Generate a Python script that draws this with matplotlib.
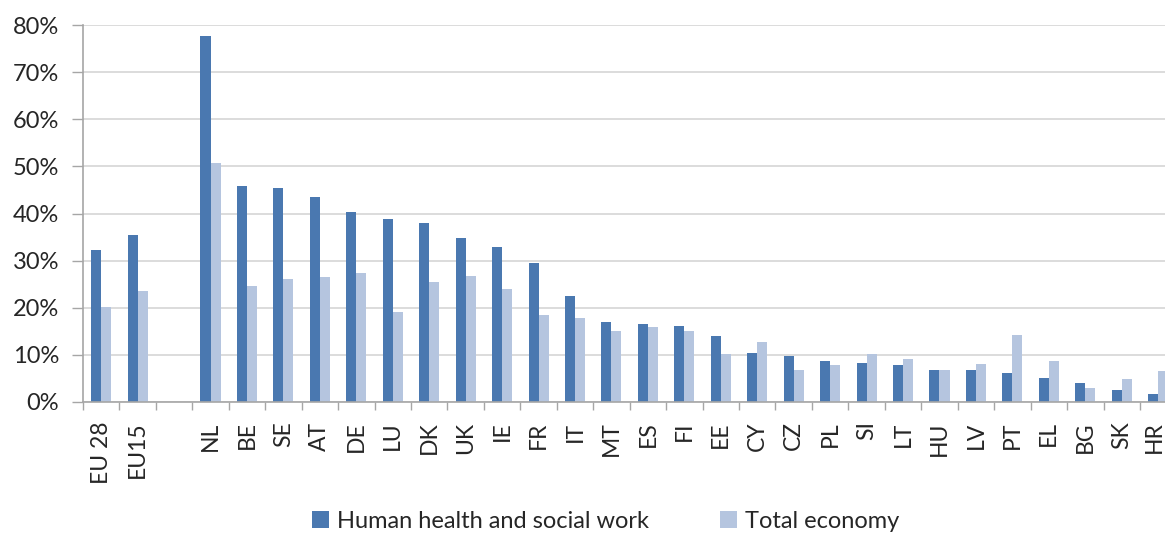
import matplotlib
matplotlib.use("Agg")
import matplotlib.pyplot as plt
import matplotlib.transforms as mtransforms
import numpy as np

plt.rcParams['font.family'] = ['Lato', 'DejaVu Sans']

# data (share in %), blank slot separates EU aggregates from countries
countries = ["EU 28", "EU15", "", "NL", "BE", "SE", "AT", "DE", "LU", "DK", "UK", "IE",
             "FR", "IT", "MT", "ES", "FI", "EE", "CY", "CZ", "PL", "SI", "LT", "HU",
             "LV", "PT", "EL", "BG", "SK", "HR"]
health = [32.3, 35.5, np.nan, 77.7, 45.9, 45.5, 43.6, 40.4, 38.8, 38.0, 34.9, 32.8,
          29.5, 22.5, 17.0, 16.5, 16.2, 14.0, 10.5, 9.7, 8.6, 8.3, 7.8, 6.7,
          6.7, 6.2, 5.0, 4.0, 2.6, 1.8]
total = [20.2, 23.5, np.nan, 50.7, 24.7, 26.2, 26.5, 27.3, 19.2, 25.4, 26.8, 24.0,
         18.4, 17.8, 15.1, 15.9, 15.1, 10.2, 12.7, 6.7, 7.8, 10.2, 9.1, 6.7,
         8.1, 14.3, 8.6, 2.9, 4.8, 6.6]

dark = "#4A78B0"
light = "#B5C5DF"
txt = "#262626"

fig = plt.figure(figsize=(11.65, 5.33), dpi=100)
ax = fig.add_axes([0.0712, 0.2458, 0.9386, 0.7072])

x = np.arange(len(countries))
width = 0.275
ax.bar(x - width/2, health, width, color=dark, label="Human health and social work", zorder=3)
ax.bar(x + width/2, total, width, color=light, label="Total economy", zorder=3)

ax.set_xlim(-0.5, len(countries) - 0.5)
ax.set_ylim(0, 80)
ax.set_yticks(np.arange(0, 81, 10))
ax.set_yticklabels([f"{v}%" for v in range(0, 81, 10)])
ax.yaxis.grid(True, color="#D9D9D9", linewidth=1.3, zorder=0)

ax.set_xticks(x)
ax.set_xticklabels(countries, rotation=90)
ax.set_xticks(np.arange(-0.5, len(countries)), minor=True)
ax.tick_params(axis="x", which="major", length=0, pad=14, labelsize=16.5, labelcolor=txt)
ax.tick_params(axis="x", which="minor", length=6, width=1, color="#A6A6A6", direction="out")
ax.tick_params(axis="y", length=8, width=1, color="#A6A6A6", labelsize=17, labelcolor=txt, pad=9)

# last label sits at the figure edge, nudge it left a little
last = ax.get_xticklabels()[-1]
last.set_transform(last.get_transform() + mtransforms.ScaledTranslation(-4/100, 0, fig.dpi_scale_trans))

for s in ["top", "right"]:
    ax.spines[s].set_visible(False)
for s in ["left", "bottom"]:
    ax.spines[s].set_color("#A6A6A6")
    ax.spines[s].set_linewidth(1.2)
ax.spines["bottom"].set_zorder(4)

fig.legend(loc="center", bbox_to_anchor=(0.52, 0.022), ncol=2, frameon=False,
           fontsize=17, handlelength=0.7, handleheight=0.7, columnspacing=3,
           handletextpad=0.35, labelcolor=txt)

fig.savefig("out.png", dpi=100)
